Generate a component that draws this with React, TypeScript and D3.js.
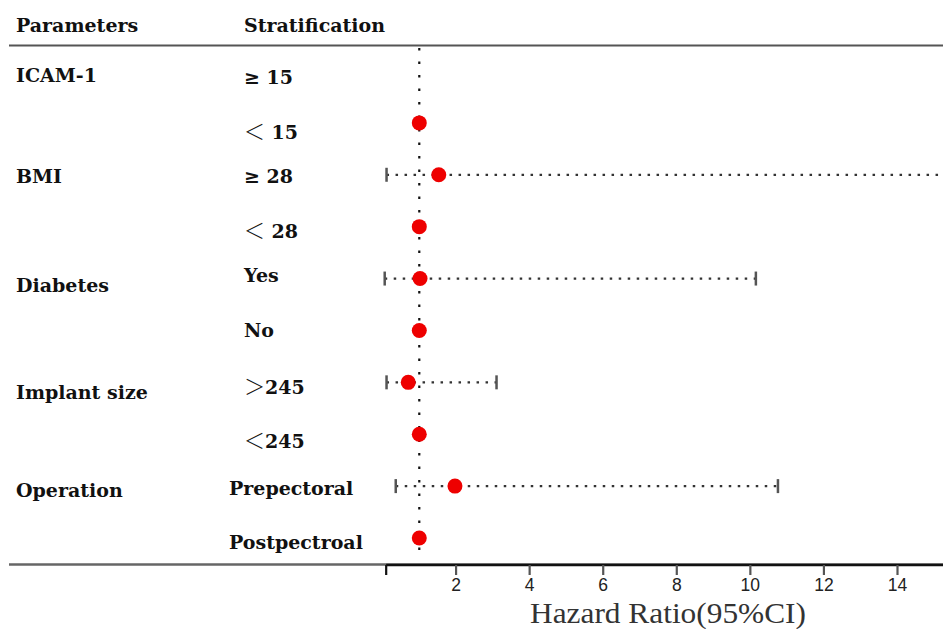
import React, { useEffect, useRef } from "react";
import * as d3 from "d3";

const parameters = ["ICAM-1", "", "BMI", "", "Diabetes", "", "Implant size", "", "Operation", ""];
const strataSign = ["≥ ", "＜", "≥ ", "＜", "", "", "＞", "＜", "", ""];
const strataText = ["15", " 15", "28", " 28", "Yes", "No", "245", "245", "Prepectoral", "Postpectroal"];
const hr: (number | null)[] = [null, 1, 1.53, 1, 1.02, 1, 0.7, 1, 1.97, 1];
const lower: (number | null)[] = [null, null, 0.11, null, 0.06, null, 0.11, null, 0.36, null];
const upper: (number | null)[] = [null, null, 17, null, 10.15, null, 3.1, null, 10.75, null];
const tickValues = [0.1, 2, 4, 6, 8, 10, 12, 14];
const tickLabels = ["", "2", "4", "6", "8", "10", "12", "14"];
const axisTitle = "Hazard Ratio(95%CI)";
const headers = ["Parameters", "Stratification"];

// layout nudges (pixels) for label text relative to its row
const strataNudge = [6, 9, 2, 5, -3, 0, 5, 7, 2, 4];
const paramNudge = [4, 0, 2, 0, 7, 0, 10, 0, 4, 0];

const W = 943;
const H = 629;

export default function App() {
  const ref = useRef<SVGSVGElement>(null);

  useEffect(() => {
    document.body.style.margin = "0";
    const svg = d3.select(ref.current);
    svg.selectAll("*").remove();

    const x = d3.scaleLinear().domain([0, 14]).range([382.5, 897.5]);
    const y = d3.scaleLinear().domain([0, 9]).range([71, 538]);
    const serif = "'DejaVu Serif', serif";
    const fs = 19;

    const defs = svg.append("defs");
    defs.append("clipPath").attr("id", "clip").append("rect").attr("x", 0).attr("y", 0).attr("width", W).attr("height", H);

    // headers
    svg.append("text").attr("x", 16).attr("y", 25).attr("dy", "0.35em").text(headers[0])
      .attr("font-family", serif).attr("font-weight", "bold").attr("font-size", fs).attr("fill", "#111");
    svg.append("text").attr("x", 244).attr("y", 25).attr("dy", "0.35em").text(headers[1])
      .attr("font-family", serif).attr("font-weight", "bold").attr("font-size", fs).attr("fill", "#111");

    // table lines
    svg.append("line").attr("x1", 9).attr("x2", W).attr("y1", 45.5).attr("y2", 45.5)
      .attr("stroke", "#555").attr("stroke-width", 2.2);
    svg.append("line").attr("x1", 9).attr("x2", W).attr("y1", 564.5).attr("y2", 564.5)
      .attr("stroke", "#666").attr("stroke-width", 2.5);

    // reference line at HR = 1
    svg.append("line").attr("x1", x(1)).attr("x2", x(1)).attr("y1", 48).attr("y2", 558)
      .attr("stroke", "#111").attr("stroke-width", 2.2).attr("stroke-dasharray", "2.5,11");

    // labels
    parameters.forEach((p, i) => {
      if (!p) return;
      svg.append("text").attr("x", 16).attr("y", y(i) + paramNudge[i]).attr("dy", "0.35em").text(p)
        .attr("font-family", serif).attr("font-weight", "bold").attr("font-size", fs).attr("fill", "#111");
    });
    strataText.forEach((s, i) => {
      const long = s.length > 8;
      const t = svg.append("text").attr("x", long ? 229 : 244).attr("y", y(i) + strataNudge[i]).attr("dy", "0.35em")
        .attr("font-family", serif).attr("font-weight", "bold").attr("font-size", fs).attr("fill", "#111");
      const sign = strataSign[i];
      if (sign) {
        const fullwidth = sign !== "≥ ";
        t.append("tspan").text(sign)
          .attr("font-family", fullwidth ? "'Noto Sans CJK SC', sans-serif" : serif)
          .attr("font-weight", fullwidth ? "300" : "bold")
          .attr("font-size", fullwidth ? 21 : fs);
      }
      t.append("tspan").text(s);
    });

    const g = svg.append("g").attr("clip-path", "url(#clip)");
    // CI lines
    hr.forEach((v, i) => {
      const lo = lower[i];
      const hi = upper[i];
      if (lo == null || hi == null) return;
      g.append("line").attr("x1", x(lo)).attr("x2", x(hi)).attr("y1", y(i)).attr("y2", y(i))
        .attr("stroke", "#333").attr("stroke-width", 2.2).attr("stroke-dasharray", "2.5,6.5");
      [lo, hi].forEach((c) => {
        g.append("line").attr("x1", x(c)).attr("x2", x(c)).attr("y1", y(i) - 7).attr("y2", y(i) + 7)
          .attr("stroke", "#555").attr("stroke-width", 2.5);
      });
    });
    // points
    hr.forEach((v, i) => {
      if (v == null) return;
      g.append("circle").attr("cx", x(v)).attr("cy", y(i)).attr("r", 7.5).attr("fill", "#ee0000");
    });

    // axis
    const axisG = svg.append("g").attr("transform", "translate(0,565)");
    axisG.append("line").attr("x1", x(0.1)).attr("x2", W).attr("y1", 0).attr("y2", 0)
      .attr("stroke", "#111").attr("stroke-width", 2.5);
    tickValues.forEach((t, i) => {
      axisG.append("line").attr("x1", x(t)).attr("x2", x(t)).attr("y1", 0).attr("y2", 10)
        .attr("stroke", i === 0 ? "#111" : "#555").attr("stroke-width", 2.2);
      if (tickLabels[i]) {
        axisG.append("text").attr("x", x(t)).attr("y", 26).attr("text-anchor", "middle").text(tickLabels[i])
          .attr("font-family", "'Liberation Sans', sans-serif").attr("font-size", 17.5).attr("fill", "#222");
      }
    });

    svg.append("text").attr("x", 668).attr("y", 623).attr("text-anchor", "middle").text(axisTitle)
      .attr("font-family", "'Liberation Serif', serif").attr("font-size", 29).attr("fill", "#333")
      .attr("textLength", 276).attr("lengthAdjust", "spacingAndGlyphs");
  }, []);

  return (
    <svg ref={ref} width={W} height={H} style={{ position: "absolute", left: 0, top: 0, background: "#fff" }} />
  );
}
